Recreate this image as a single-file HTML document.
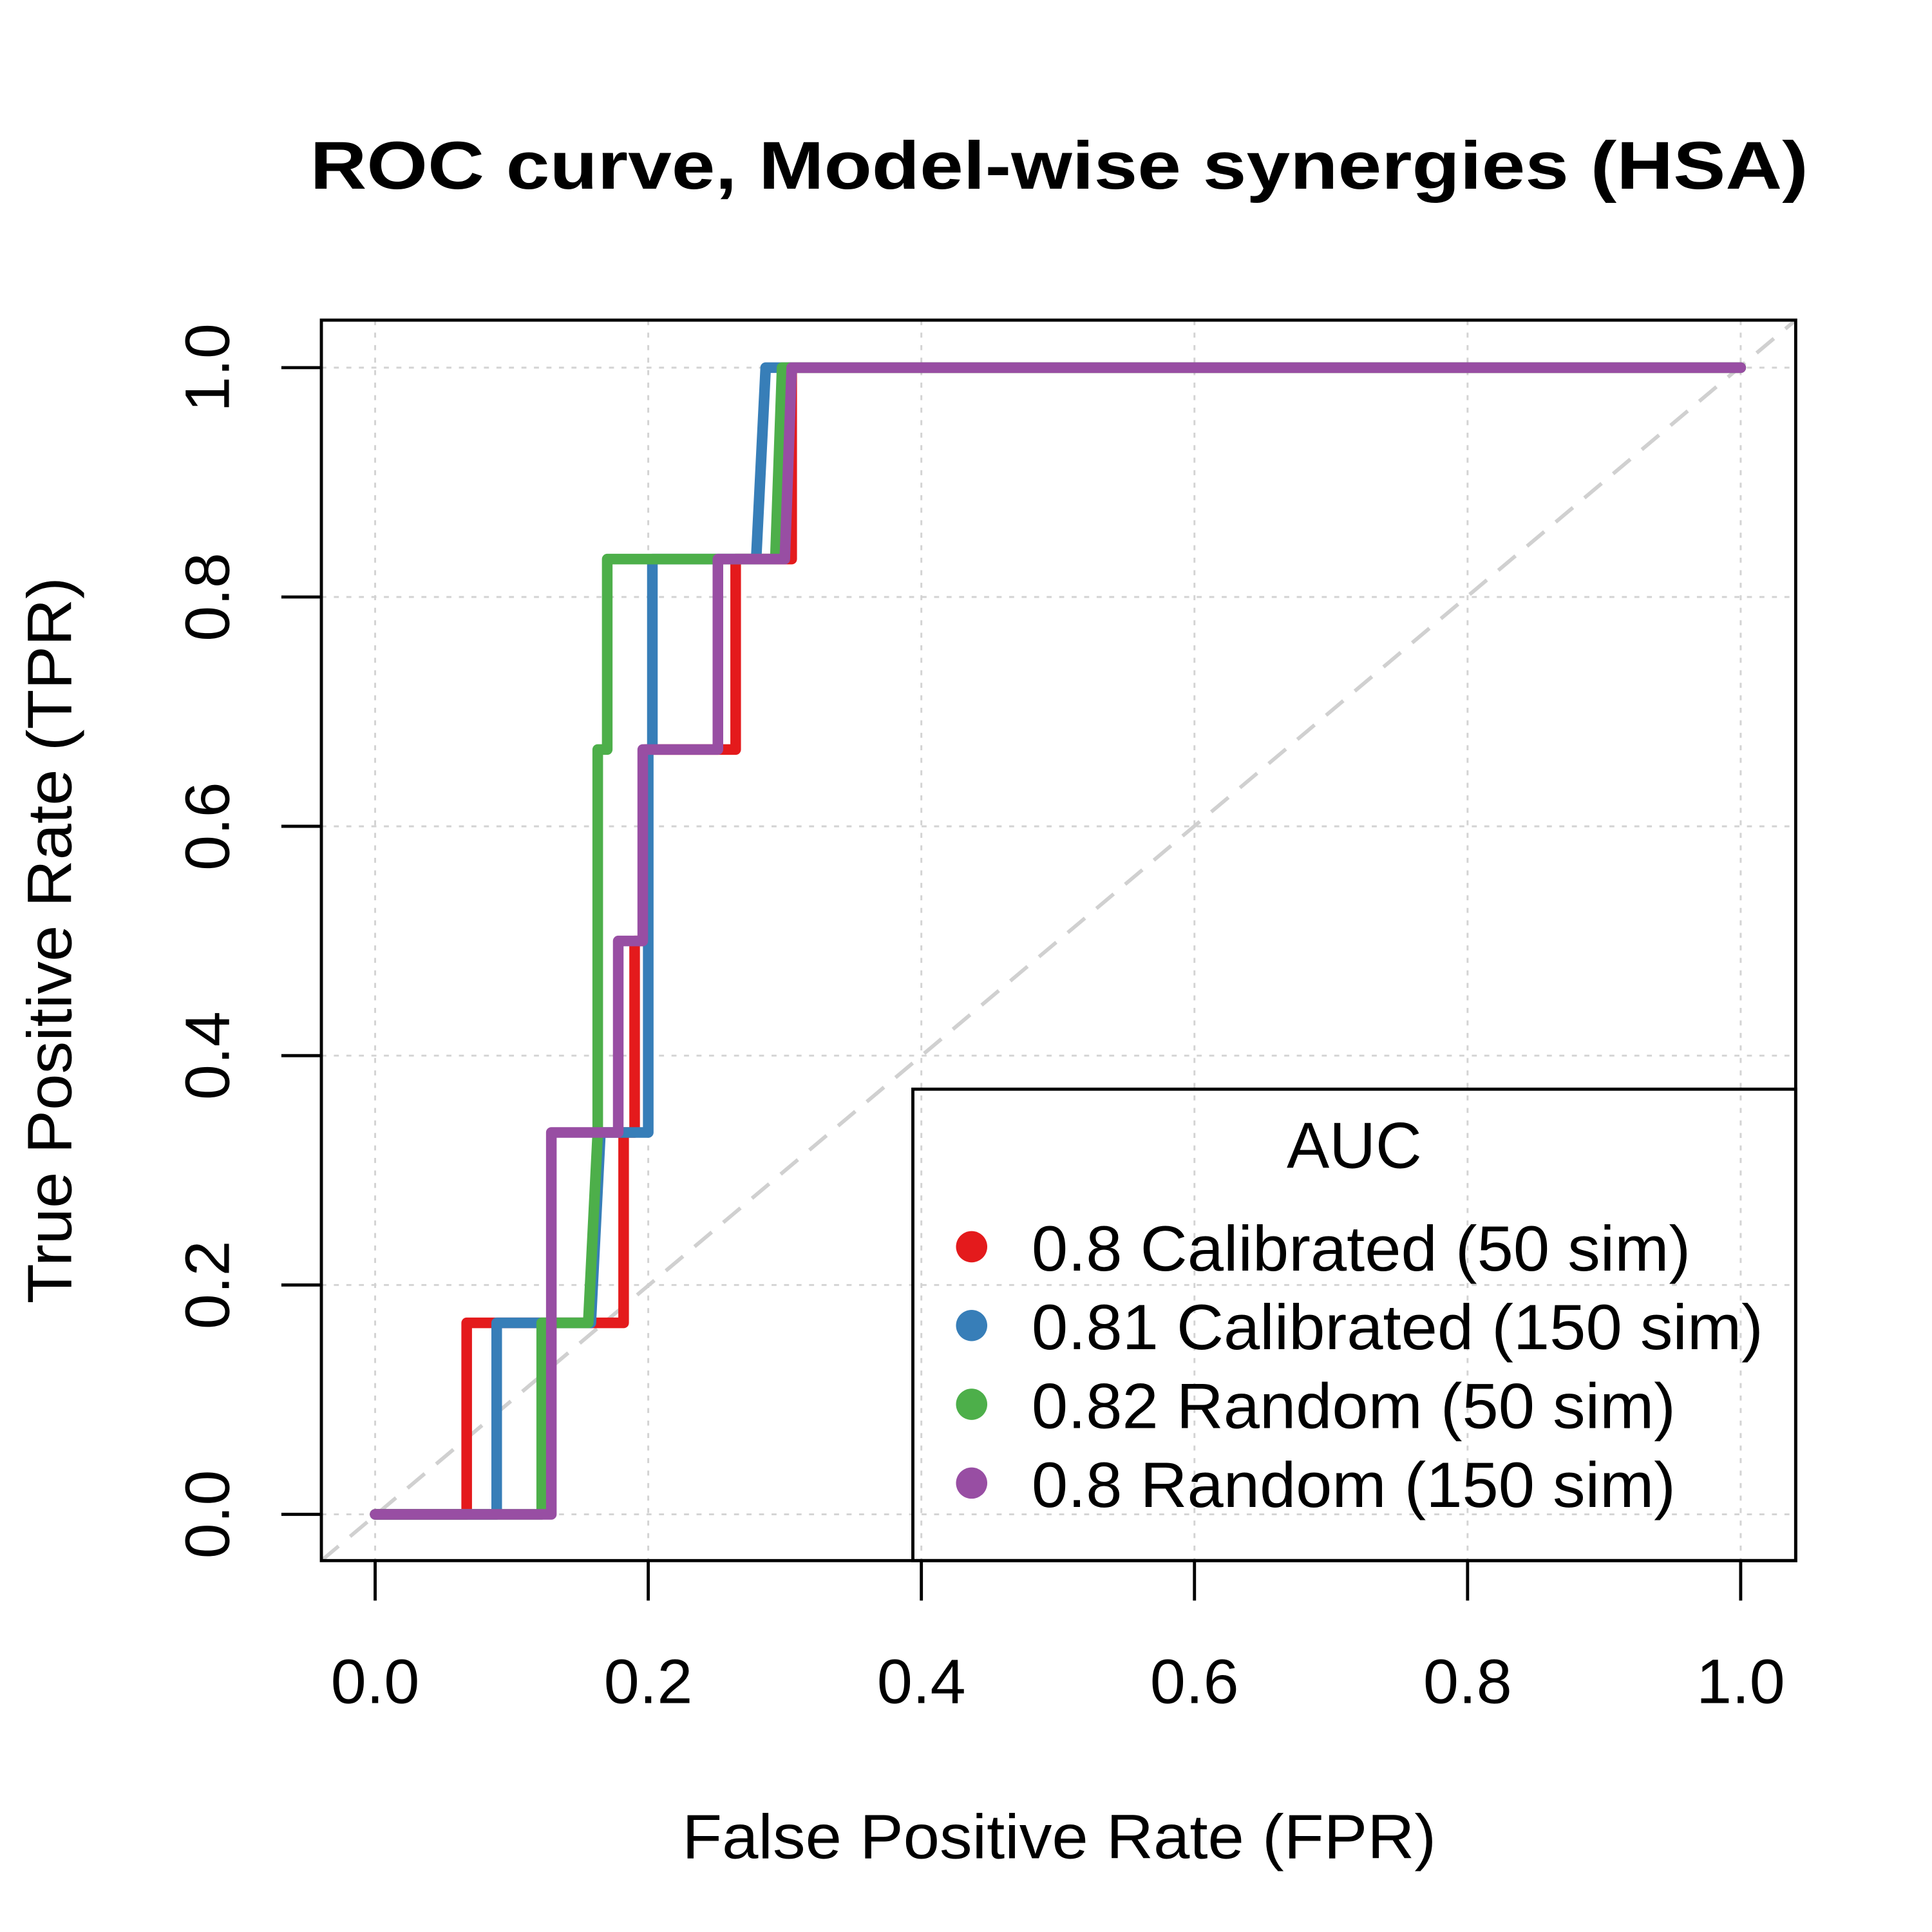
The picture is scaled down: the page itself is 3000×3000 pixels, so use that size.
<!DOCTYPE html>
<html><head><meta charset="utf-8"><style>
html,body{margin:0;padding:0;background:#fff;}
svg{display:block;}
text{font-family:"Liberation Sans",sans-serif;fill:#000;}
</style></head><body>
<svg id="chart" width="3000" height="3000" viewBox="0 0 1545 1545" xmlns="http://www.w3.org/2000/svg">
<text x="847" y="151" font-size="54" font-weight="bold" text-anchor="middle" textLength="1198" lengthAdjust="spacingAndGlyphs">ROC curve, Model-wise synergies (HSA)</text>
<g id="grid"></g>
<line x1="257" y1="1248" x2="1436" y2="256" stroke="#d0d0d0" stroke-width="3" stroke-dasharray="18,12"/>
<g id="series"></g>
<rect x="257" y="256" width="1179" height="992" fill="none" stroke="#000" stroke-width="2.5"/>
<g id="axes"></g>
<text x="847" y="1486" font-size="50" text-anchor="middle" textLength="603" lengthAdjust="spacingAndGlyphs">False Positive Rate (FPR)</text>
<text transform="translate(57,752) rotate(-90)" font-size="50" text-anchor="middle" textLength="581" lengthAdjust="spacingAndGlyphs">True Positive Rate (TPR)</text>
<g>
<rect x="730" y="871" width="706" height="377" fill="none" stroke="#000" stroke-width="2.5"/>
<text x="1083" y="934" font-size="52" text-anchor="middle" textLength="108" lengthAdjust="spacingAndGlyphs">AUC</text>
<g id="legend-entries"></g>
</g>
</svg>
<script>
const xTicks = [0, 0.2, 0.4, 0.6, 0.8, 1.0];
const xTickLabels = ["0.0", "0.2", "0.4", "0.6", "0.8", "1.0"];
const yTicks = [0, 0.2, 0.4, 0.6, 0.8, 1.0];
const yTickLabels = ["0.0", "0.2", "0.4", "0.6", "0.8", "1.0"];
const seriesNames = ["0.8 Calibrated (50 sim)", "0.81 Calibrated (150 sim)", "0.82 Random (50 sim)", "0.8 Random (150 sim)"];
const seriesColors = ["#e41a1c", "#377eb8", "#4daf4a", "#984ea3"];
const redFpr = [0, 0.067, 0.067, 0.182, 0.182, 0.190, 0.190, 0.198, 0.198, 0.264, 0.264, 0.305, 0.305, 1];
const redTpr = [0, 0, 0.167, 0.167, 0.333, 0.333, 0.5, 0.5, 0.667, 0.667, 0.833, 0.833, 1, 1];
const blueFpr = [0, 0.089, 0.089, 0.158, 0.165, 0.200, 0.200, 0.203, 0.203, 0.279, 0.286, 1];
const blueTpr = [0, 0, 0.167, 0.167, 0.333, 0.333, 0.667, 0.667, 0.833, 0.833, 1, 1];
const greenFpr = [0, 0.122, 0.122, 0.156, 0.163, 0.163, 0.170, 0.170, 0.293, 0.298, 1];
const greenTpr = [0, 0, 0.167, 0.167, 0.333, 0.667, 0.667, 0.833, 0.833, 1, 1];
const purpleFpr = [0, 0.129, 0.129, 0.178, 0.178, 0.196, 0.196, 0.251, 0.251, 0.300, 0.305, 1];
const purpleTpr = [0, 0, 0.333, 0.333, 0.5, 0.5, 0.667, 0.667, 0.833, 0.833, 1, 1];

const NS = "http://www.w3.org/2000/svg";
function sx(v){ return 300 + v * 1092; }
function sy(v){ return 1211 - v * 917; }
function mk(tag, attrs, parent){ const e = document.createElementNS(NS, tag); for (const k in attrs) e.setAttribute(k, attrs[k]); parent.appendChild(e); return e; }

const grid = document.getElementById('grid');
xTicks.forEach(t => {
  const l = mk('line', {x1: sx(t), x2: sx(t), y1: 256, y2: 1248, stroke: '#d3d3d3', 'stroke-width': 1.5, 'stroke-dasharray': '4,6'}, grid);
  
  
});
yTicks.forEach(t => {
  const l = mk('line', {x1: 257, x2: 1436, y1: sy(t), y2: sy(t), stroke: '#d3d3d3', 'stroke-width': 1.5, 'stroke-dasharray': '4,6'}, grid);
  
  
});

const seriesX = [redFpr, blueFpr, greenFpr, purpleFpr];
const seriesY = [redTpr, blueTpr, greenTpr, purpleTpr];
const sg = document.getElementById('series');
seriesX.forEach((xs, i) => {
  const pts = xs.map((x, j) => sx(x).toFixed(1) + ',' + sy(seriesY[i][j]).toFixed(1)).join(' ');
  const p = mk('polyline', {points: pts, fill: 'none', stroke: seriesColors[i], 'stroke-width': 8.5, 'stroke-linejoin': 'round', 'stroke-linecap': 'round'}, sg);
  
  
});

const ax = document.getElementById('axes');
xTicks.forEach((t, i) => {
  const l = mk('line', {x1: sx(t), x2: sx(t), y1: 1248, y2: 1280, stroke: '#000', 'stroke-width': 2.5}, ax);
  
  
  const tx = mk('text', {x: sx(t), y: 1362, 'font-size': 50, 'text-anchor': 'middle', textLength: 71, lengthAdjust: 'spacingAndGlyphs'}, ax);
  tx.textContent = xTickLabels[i];
  
  
});
yTicks.forEach((t, i) => {
  const l = mk('line', {x1: 225, x2: 257, y1: sy(t), y2: sy(t), stroke: '#000', 'stroke-width': 2.5}, ax);
  
  
  const tx = mk('text', {transform: 'translate(183,' + sy(t) + ') rotate(-90)', 'font-size': 50, 'text-anchor': 'middle', textLength: 71, lengthAdjust: 'spacingAndGlyphs'}, ax);
  tx.textContent = yTickLabels[i];
  
  
});

const legendWidths = [527, 585, 515, 515];
const lg = document.getElementById('legend-entries');
seriesNames.forEach((n, i) => {
  const y = 997 + i * 63;
  const c = mk('circle', {cx: 777, cy: y, r: 12.5, fill: seriesColors[i]}, lg);
  
  
  const tx = mk('text', {x: 825, y: y + 19, 'font-size': 51, textLength: legendWidths[i], lengthAdjust: 'spacingAndGlyphs'}, lg);
  tx.textContent = n;
  
  
});
</script>
</body></html>
